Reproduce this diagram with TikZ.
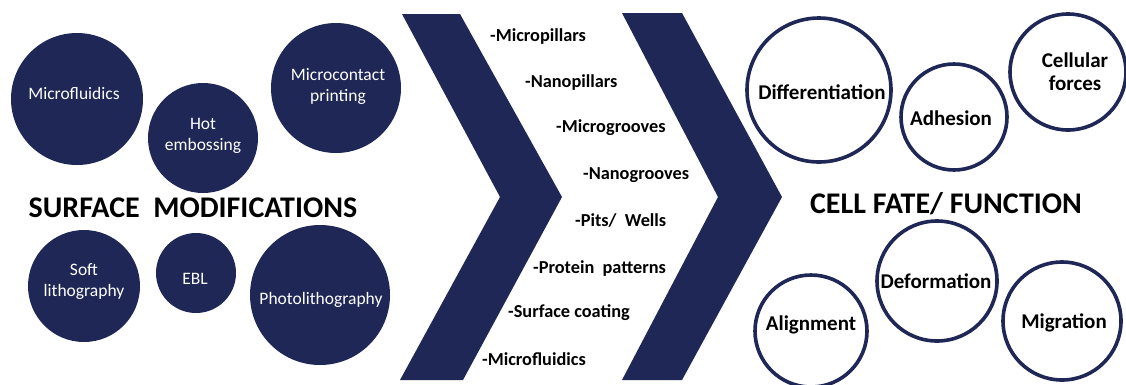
\documentclass[tikz,border=0pt]{standalone}
\usepackage{fontspec}
\setmainfont{Carlito}
\definecolor{navy}{RGB}{30,39,86}
\tikzset{
  fcirc/.style={circle,fill=navy,draw=none,inner sep=0pt},
  ocirc/.style={circle,draw=navy,line width=3.6pt,fill=white,inner sep=0pt},
  wtext/.style={text=white,align=center,font=\fontsize{17.5}{21}\selectfont,inner sep=0pt},
  btext/.style={text=black,align=center,font=\fontsize{21}{23}\selectfont\bfseries,inner sep=0pt},
  dtext/.style={text=black,anchor=west,font=\fontsize{18.3}{21}\selectfont\bfseries,inner sep=0pt},
  title/.style={text=black,font=\fontsize{30}{34}\selectfont\bfseries,inner sep=0pt},
  chev/.style={fill=navy,draw=none}
}
\begin{document}
\begin{tikzpicture}[x=1pt,y=-1pt]
\useasboundingbox[fill=white] (0,0) rectangle (1126,384);
% chevrons
\fill[chev] (402,14) -- (460,14) -- (562,197) -- (463,380) -- (400,380) -- (500,197) -- cycle;
\fill[chev] (622,13) -- (682,13) -- (782,197) -- (682,380) -- (622,380) -- (718,197) -- cycle;
% filled circles
\node[fcirc,minimum size=132] (c1) at (77,99) {};
\node[wtext] (t1) at (74,93) {Microfluidics};
\node[fcirc,minimum size=110] (c2) at (203,138) {};
\node[wtext] (t2) at (203,136) {Hot\\embossing};
\node[fcirc,minimum size=130] (c3) at (336,88) {};
\node[wtext] (t3) at (338,86) {Microcontact\\printing};
\node[fcirc,minimum size=112] (c4) at (84,286) {};
\node[wtext] (t4) at (84,281) {Soft\\lithography};
\node[fcirc,minimum size=80] (c5) at (196,273) {};
\node[wtext] (t5) at (195,279) {EBL};
\node[fcirc,minimum size=140] (c6) at (320,295) {};
\node[wtext] (t6) at (321,300) {Photolithography};
\node[title] (sm) at (193,208) {SURFACE\ \ MODIFICATIONS};
% dash list
\node[dtext] (d1) at (490,37) {-Micropillars};
\node[dtext] (d2) at (525,83) {-Nanopillars};
\node[dtext] (d3) at (556,128) {-Microgrooves};
\node[dtext] (d4) at (583,175) {-Nanogrooves};
\node[dtext] (d5) at (575,220) {-Pits/\ \ Wells};
\node[dtext] (d6) at (533,269) {-Protein\ \ patterns};
\node[dtext] (d7) at (508,313) {-Surface coating};
\node[dtext] (d8) at (482,359) {-Microfluidics};
% open circles
\node[ocirc,minimum size=144] (o1) at (819,90) {};
\node[btext] (p1) at (822,92) {Differentiation};
\node[ocirc,minimum size=106] (o2) at (954,117) {};
\node[btext] (p2) at (951,118) {Adhesion};
\node[ocirc,minimum size=116] (o3) at (1068,72) {};
\node[btext] (p3) at (1075,72) {Cellular\\forces};
\node[ocirc,minimum size=120] (o4) at (937,281) {};
\node[btext] (p4) at (936,281) {Deformation};
\node[ocirc,minimum size=112] (o5) at (811,331) {};
\node[btext] (p5) at (811,325) {Alignment};
\node[ocirc,minimum size=118] (o6) at (1062,321) {};
\node[btext] (p6) at (1064,323) {Migration};
\node[title] (cf) at (946,204) {CELL FATE/ FUNCTION};
\end{tikzpicture}
\end{document}
